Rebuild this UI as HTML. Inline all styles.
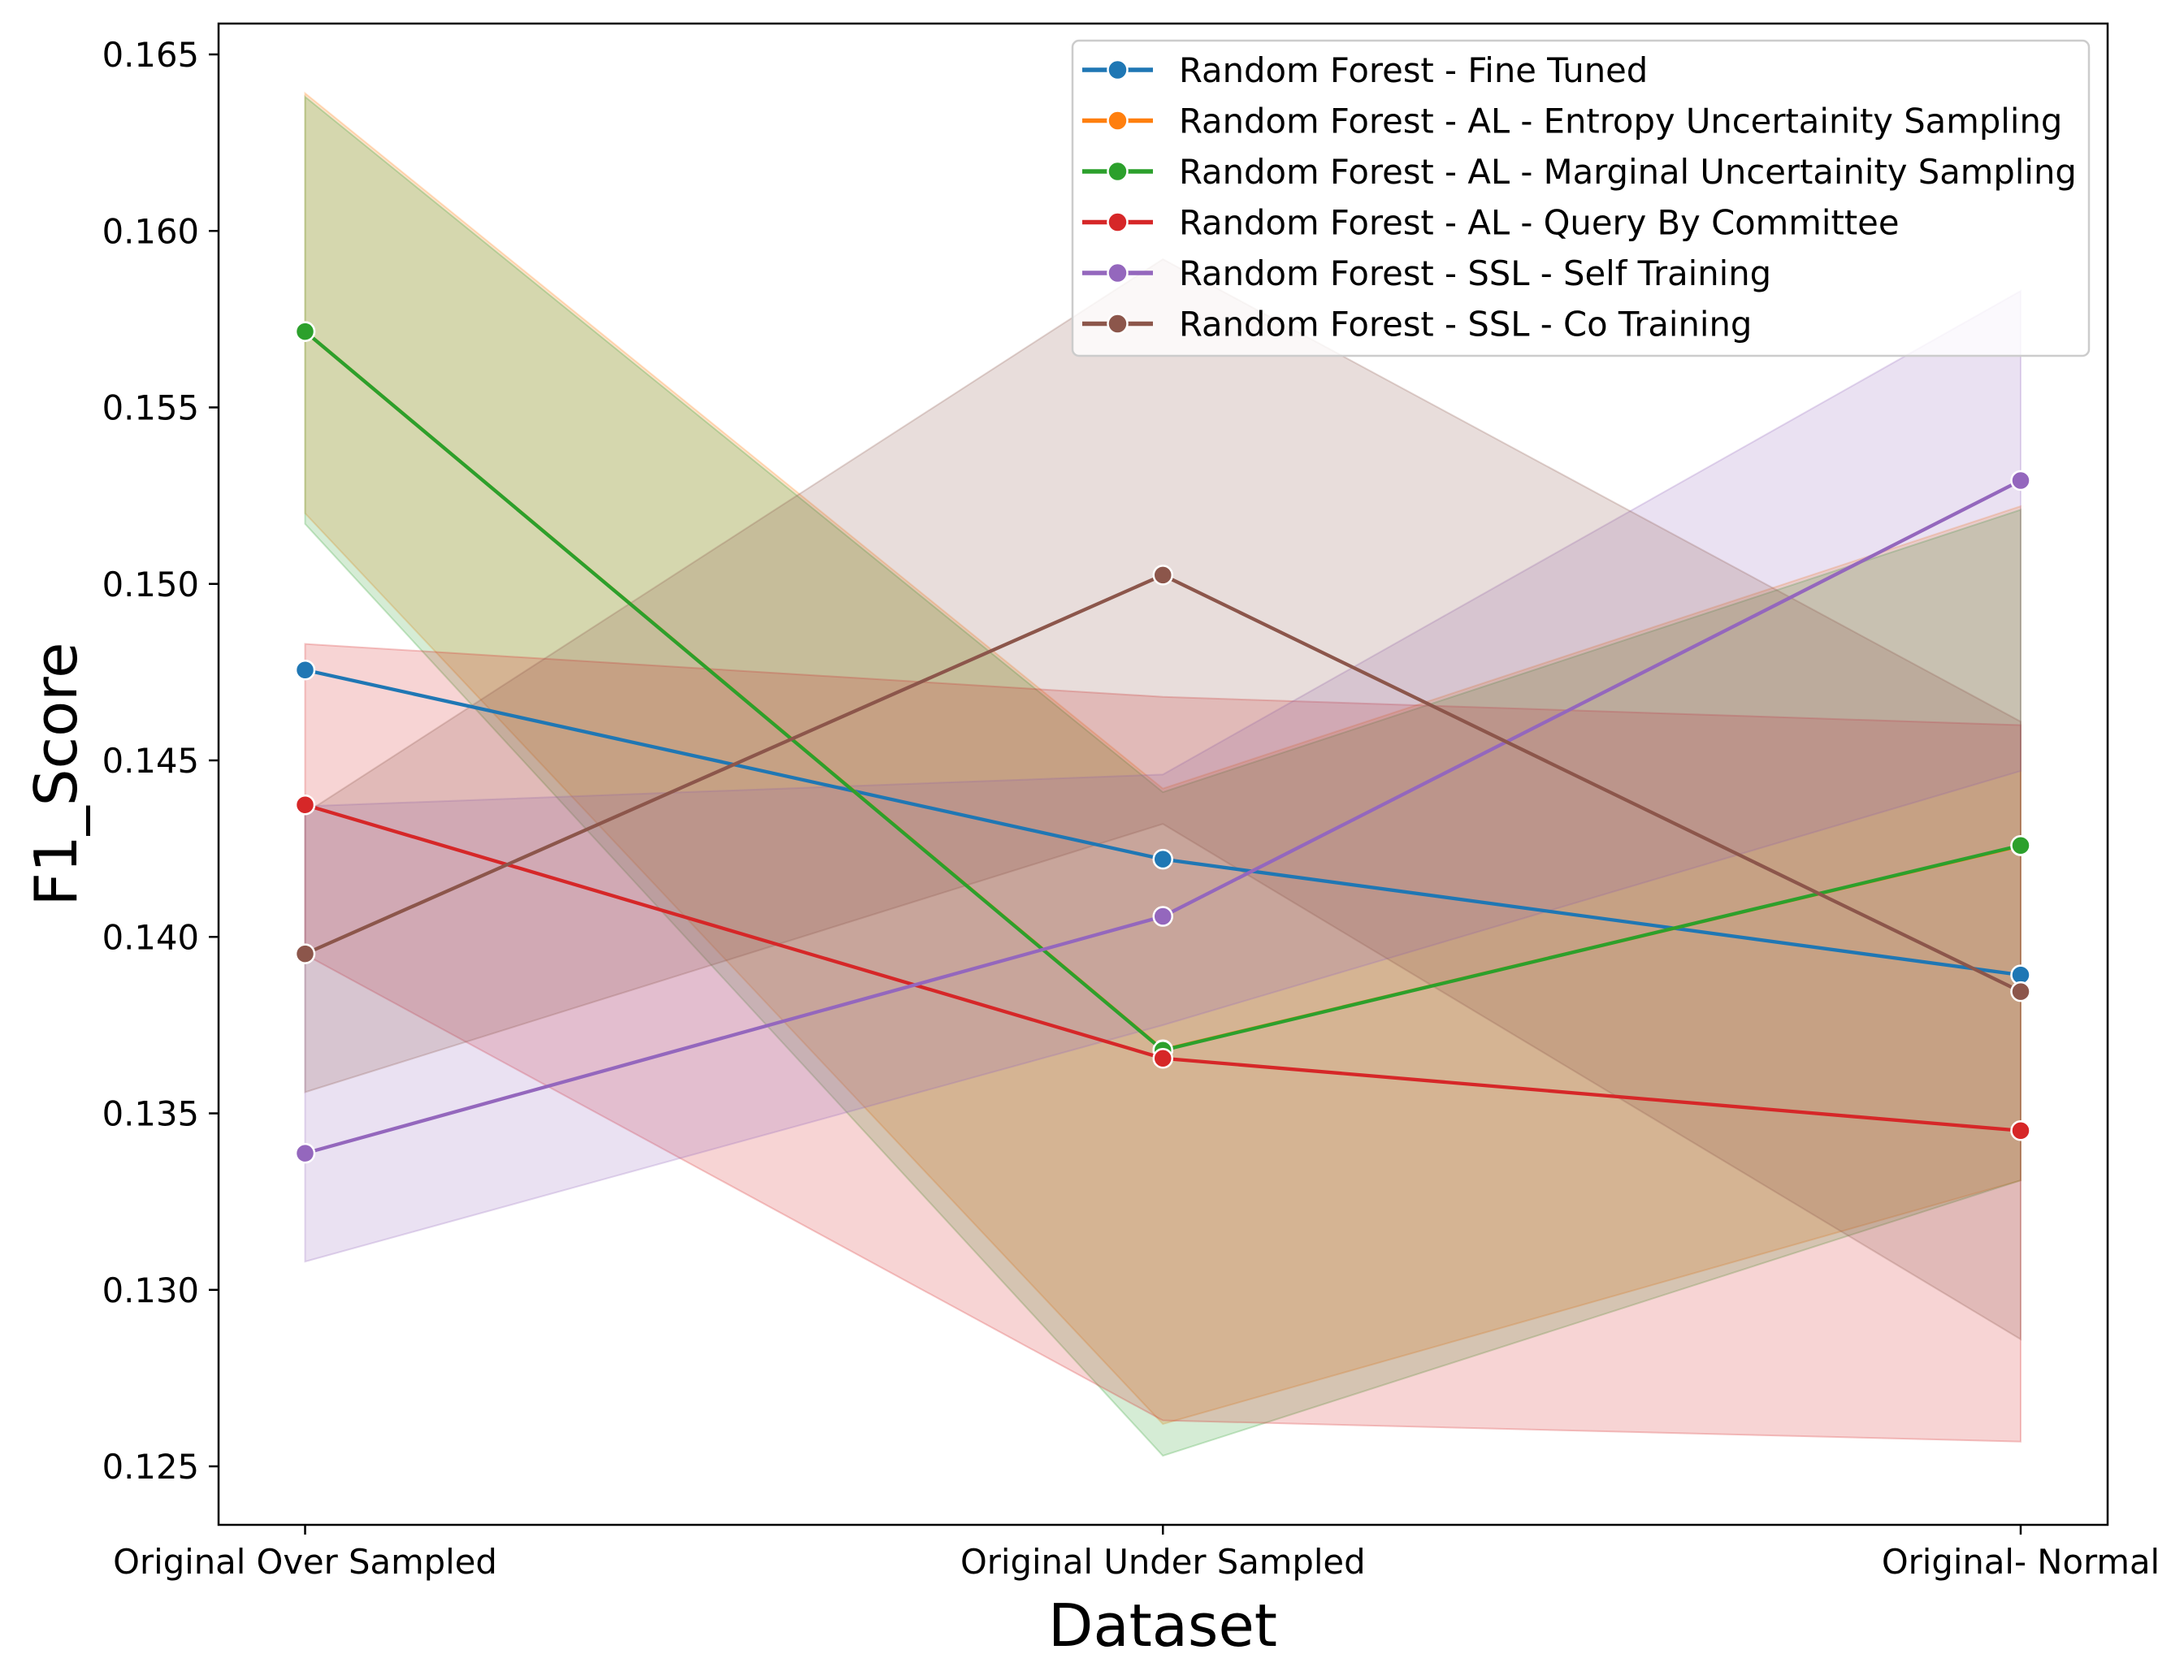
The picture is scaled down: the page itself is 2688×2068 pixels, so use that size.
<!DOCTYPE html>
<html><head><meta charset="utf-8"><style>
html,body{margin:0;padding:0;background:#fff}
svg{display:block}
text{font-family:"DejaVu Sans","Liberation Sans",sans-serif;fill:#000}
</style></head><body>
<svg id="chart" width="2688" height="2068" viewBox="0 0 2688 2068" xmlns="http://www.w3.org/2000/svg">
<g id="bands"></g>
<g id="lines"></g>
<rect x="269" y="29" width="2325" height="1848" fill="none" stroke="#000" stroke-width="2.5"/>
<g id="axes"></g>
<g id="legend"></g>
<text x="1431" y="2026" font-size="72" text-anchor="middle">Dataset</text>
<text x="0" y="0" font-size="72" text-anchor="middle" transform="translate(94,953) rotate(-90)">F1_Score</text>
</svg>
<script>
const categories = ["Original Over Sampled","Original Under Sampled","Original- Normal"];
const yTicks = [0.125,0.130,0.135,0.140,0.145,0.150,0.155,0.160,0.165];
const seriesNames = ["Random Forest - Fine Tuned","Random Forest - AL - Entropy Uncertainity Sampling","Random Forest - AL - Marginal Uncertainity Sampling","Random Forest - AL - Query By Committee","Random Forest - SSL - Self Training","Random Forest - SSL - Co Training"];
const seriesColors = ["#1f77b4","#ff7f0e","#2ca02c","#d62728","#9467bd","#8c564b"];
const fineTuned = [0.14756,0.14220,0.13892];
const entropy = [0.15715,0.13680,0.14258];
const marginal = [0.15715,0.13679,0.14259];
const qbc = [0.14374,0.13656,0.13451];
const selfTraining = [0.13387,0.14058,0.15293];
const coTraining = [0.13952,0.15025,0.13845];
const fineTunedLo = [0.14756,0.14220,0.13892];
const fineTunedHi = [0.14756,0.14220,0.13892];
const entropyLo = [0.1520,0.1262,0.1331];
const entropyHi = [0.1639,0.1442,0.1522];
const marginalLo = [0.1517,0.1253,0.1331];
const marginalHi = [0.1638,0.1441,0.1521];
const qbcLo = [0.1395,0.1263,0.1257];
const qbcHi = [0.1483,0.1468,0.1460];
const selfLo = [0.1308,0.1375,0.1447];
const selfHi = [0.1437,0.1446,0.1583];
const coLo = [0.1356,0.1432,0.1286];
const coHi = [0.1435,0.1592,0.1461];

const values=[fineTuned,entropy,marginal,qbc,selfTraining,coTraining];
const los=[fineTunedLo,entropyLo,marginalLo,qbcLo,selfLo,coLo];
const his=[fineTunedHi,entropyHi,marginalHi,qbcHi,selfHi,coHi];
const NS="http://www.w3.org/2000/svg";
const X0=375.5,X1=2487;
function xs(i){return X0+(X1-X0)*i/(categories.length-1);}
const Y165=67,Y125=1805;
function ys(v){return Y125+(v-0.125)/(0.165-0.125)*(Y165-Y125);}
function mk(tag,attrs,parent){const e=document.createElementNS(NS,tag);for(const k in attrs)e.setAttribute(k,attrs[k]);parent.appendChild(e);return e;}
const bands=document.getElementById('bands'),lines=document.getElementById('lines'),axes=document.getElementById('axes'),legend=document.getElementById('legend');
for(let s=0;s<values.length;s++){
  let pts=[];
  for(let i=0;i<categories.length;i++)pts.push(xs(i)+','+ys(his[s][i]));
  for(let i=categories.length-1;i>=0;i--)pts.push(xs(i)+','+ys(los[s][i]));
  const b=mk('polygon',{points:pts.join(' '),fill:seriesColors[s],'fill-opacity':0.2,stroke:seriesColors[s],'stroke-opacity':0.25,'stroke-width':2},bands);
  
  
}
for(let s=0;s<values.length;s++){
  const g=mk('g',{},lines);
  
  
  const p=values[s].map((v,i)=>xs(i)+','+ys(v)).join(' ');
  const l=mk('polyline',{points:p,fill:'none',stroke:seriesColors[s],'stroke-width':4.3},g);
  
  
  values[s].forEach((v,i)=>{
    const c=mk('circle',{cx:xs(i),cy:ys(v),r:11.5,fill:seriesColors[s],stroke:'#fff','stroke-width':2.5},g);
    
    
  });
}
yTicks.forEach(t=>{
  const y=ys(t);
  const l=mk('line',{x1:257,x2:269,y1:y,y2:y,stroke:'#000','stroke-width':2.5},axes);
  
  
  const tx=mk('text',{x:245,y:y+15,'font-size':41.7,'text-anchor':'end'},axes);
  tx.textContent=t.toFixed(3);
  
  
});
categories.forEach((c,i)=>{
  const x=xs(i);
  const l=mk('line',{x1:x,x2:x,y1:1877,y2:1889,stroke:'#000','stroke-width':2.5},axes);
  
  
  const tx=mk('text',{x:x,y:1937,'font-size':41.7,'text-anchor':'middle'},axes);
  tx.textContent=c;
  
  
});
const lb=mk('rect',{x:1320,y:50,width:1251,height:388,rx:8,fill:'#fff','fill-opacity':0.8,stroke:'#ccc','stroke-width':2.5},legend);


seriesNames.forEach((n,s)=>{
  const y=86+s*62.5;
  const g=mk('g',{},legend);
  
  
  mk('line',{x1:1332,x2:1419,y1:y,y2:y,stroke:seriesColors[s],'stroke-width':5.5},g);
  mk('circle',{cx:1375.5,cy:y,r:12,fill:seriesColors[s],stroke:'#fff','stroke-width':2.5},g);
  const t=mk('text',{x:1451,y:y+15,'font-size':41.7},g);
  t.textContent=n;
});
</script>
</body></html>
